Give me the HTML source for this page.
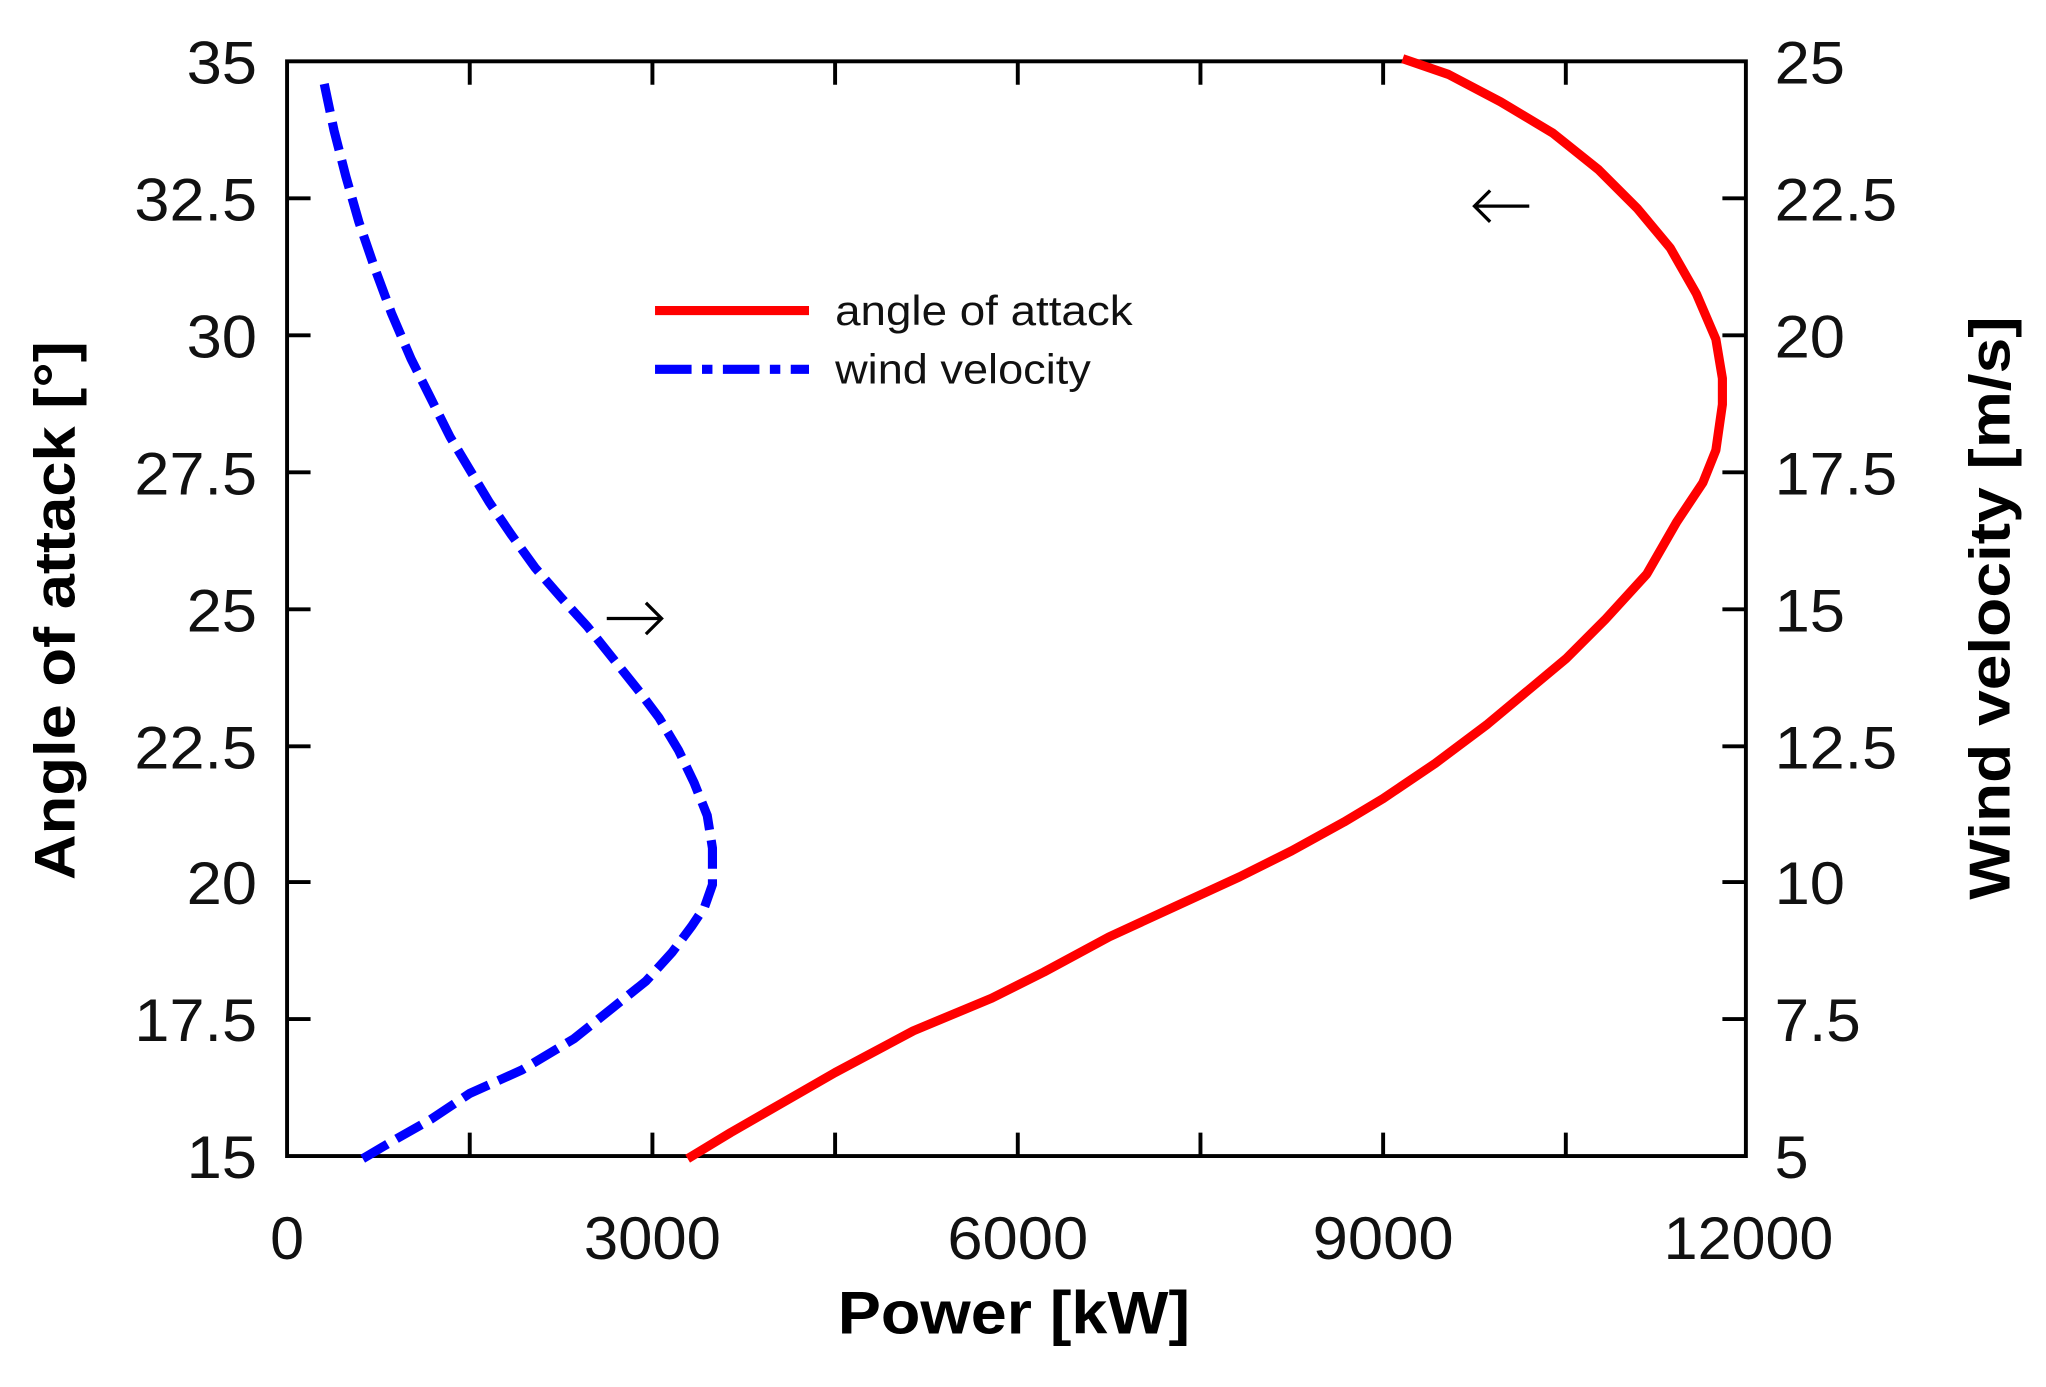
<!DOCTYPE html>
<html><head><meta charset="utf-8"><style>html,body{margin:0;padding:0;background:#fff}svg{display:block}</style></head>
<body>
<svg width="2046" height="1387" viewBox="0 0 1568 1063" preserveAspectRatio="none" xmlns="http://www.w3.org/2000/svg" font-family="'Liberation Sans',sans-serif">
<rect width="1568" height="1063" fill="#fff"/>
<g stroke="#000" stroke-width="3" fill="none">
<rect x="220" y="47" width="1118" height="839"/>
<path d="M360 886v-18M500 886v-18M640 886v-18M780 886v-18M920 886v-18M1060 886v-18M1200 886v-18
M360 47v18M500 47v18M640 47v18M780 47v18M920 47v18M1060 47v18M1200 47v18
M220 152h18M220 257h18M220 362h18M220 467h18M220 572h18M220 676h18M220 781h18
M1338 152h-18M1338 257h-18M1338 362h-18M1338 467h-18M1338 572h-18M1338 676h-18M1338 781h-18"/>
</g>
<g font-size="46" fill="#111" text-anchor="end" lengthAdjust="spacingAndGlyphs">
<text x="197" y="64" textLength="54" lengthAdjust="spacingAndGlyphs">35</text>
<text x="197" y="169" textLength="94" lengthAdjust="spacingAndGlyphs">32.5</text>
<text x="197" y="274" textLength="54" lengthAdjust="spacingAndGlyphs">30</text>
<text x="197" y="379" textLength="94" lengthAdjust="spacingAndGlyphs">27.5</text>
<text x="197" y="484" textLength="54" lengthAdjust="spacingAndGlyphs">25</text>
<text x="197" y="589" textLength="94" lengthAdjust="spacingAndGlyphs">22.5</text>
<text x="197" y="693" textLength="54" lengthAdjust="spacingAndGlyphs">20</text>
<text x="197" y="798" textLength="94" lengthAdjust="spacingAndGlyphs">17.5</text>
<text x="197" y="903" textLength="54" lengthAdjust="spacingAndGlyphs">15</text>
</g>
<g font-size="46" fill="#111">
<text x="1360" y="64" textLength="54" lengthAdjust="spacingAndGlyphs">25</text>
<text x="1360" y="169" textLength="94" lengthAdjust="spacingAndGlyphs">22.5</text>
<text x="1360" y="274" textLength="54" lengthAdjust="spacingAndGlyphs">20</text>
<text x="1360" y="379" textLength="94" lengthAdjust="spacingAndGlyphs">17.5</text>
<text x="1360" y="484" textLength="54" lengthAdjust="spacingAndGlyphs">15</text>
<text x="1360" y="589" textLength="94" lengthAdjust="spacingAndGlyphs">12.5</text>
<text x="1360" y="693" textLength="54" lengthAdjust="spacingAndGlyphs">10</text>
<text x="1360" y="798" textLength="66" lengthAdjust="spacingAndGlyphs">7.5</text>
<text x="1360" y="903" textLength="26" lengthAdjust="spacingAndGlyphs">5</text>
</g>
<g font-size="46" fill="#111" text-anchor="middle">
<text x="220" y="965" textLength="26" lengthAdjust="spacingAndGlyphs">0</text>
<text x="500" y="965" textLength="105" lengthAdjust="spacingAndGlyphs">3000</text>
<text x="780" y="965" textLength="108" lengthAdjust="spacingAndGlyphs">6000</text>
<text x="1060" y="965" textLength="108" lengthAdjust="spacingAndGlyphs">9000</text>
<text x="1340" y="965" textLength="130" lengthAdjust="spacingAndGlyphs">12000</text>
</g>
<text x="777" y="1022" font-weight="bold" font-size="46" text-anchor="middle" textLength="270" lengthAdjust="spacingAndGlyphs">Power [kW]</text>
<text transform="translate(57,468) rotate(-90)" font-weight="bold" font-size="44" text-anchor="middle" textLength="413" lengthAdjust="spacingAndGlyphs">Angle of attack [°]</text>
<text transform="translate(1540,466) rotate(-90)" font-weight="bold" font-size="44" text-anchor="middle" textLength="447" lengthAdjust="spacingAndGlyphs">Wind velocity [m/s]</text>
<polyline fill="none" stroke="#ff0000" stroke-width="7" stroke-linejoin="round" points="527,888 560,868 600,845 640,822 700,790 760,765 800,745 850,718 900,695 950,672 990,652 1030,630 1060,612 1100,585 1140,555 1170,530 1200,505 1230,475 1262,440 1285,400 1305,370 1315,345 1320,310 1320,290 1315,260 1300,225 1280,190 1255,160 1225,130 1190,102 1150,78 1110,57 1075,45"/>
<polyline fill="none" stroke="#0000ff" stroke-width="7" stroke-dasharray="22,8" points="278,888 300,875 330,858 360,838 400,820 440,796 470,772 495,752 515,730 530,710 540,695 546,678 546,650 542,625 532,600 520,575 505,550 490,530 470,505 450,480 430,458 410,435 392,410 375,385 360,360 345,335 330,305 315,275 300,240 287,205 275,170 265,135 256,100 248,62"/>
<line x1="502" y1="238" x2="620" y2="238" stroke="#ff0000" stroke-width="7"/>
<line x1="502" y1="283" x2="620" y2="283" stroke="#0000ff" stroke-width="7" stroke-dasharray="28,8,8,8"/>
<text x="640" y="249" font-size="32" fill="#111" textLength="228" lengthAdjust="spacingAndGlyphs">angle of attack</text>
<text x="640" y="294" font-size="32" fill="#111" textLength="196" lengthAdjust="spacingAndGlyphs">wind velocity</text>
<g stroke="#000" stroke-width="2.5" fill="none">
<path d="M1130 158h42M1142 146l-12 12 12 12"/>
<path d="M465 474h42M495 462l12 12-12 12"/>
</g>
</svg>
</body></html>
